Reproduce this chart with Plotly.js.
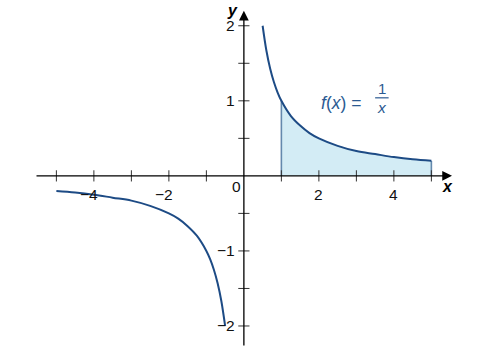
<!DOCTYPE html>
<html>
<head>
<meta charset="utf-8">
<script src="https://cdn.plot.ly/plotly-3.0.1.min.js"></script>
<style>html,body{margin:0;padding:0;background:#fff;}#chart{width:487px;height:351px;}</style>
</head>
<body>
<div id="chart"></div>
<script>
// Values
var leftX  = [-5, -4.5, -4, -3.5, -3, -2.5, -2, -1.75, -1.5, -1.25, -1, -0.9, -0.8, -0.7, -0.6, -0.5];
var leftY  = [-0.2, -0.22, -0.25, -0.29, -0.33, -0.4, -0.5, -0.57, -0.67, -0.8, -1, -1.11, -1.25, -1.43, -1.67, -2];
var rightX = [0.5, 0.6, 0.7, 0.8, 0.9, 1, 1.25, 1.5, 1.75, 2, 2.5, 3, 3.5, 4, 4.5, 5];
var rightY = [2, 1.67, 1.43, 1.25, 1.11, 1, 0.8, 0.67, 0.57, 0.5, 0.4, 0.33, 0.29, 0.25, 0.22, 0.2];
var areaFrom = 1, areaTo = 5;
var xTickVals = [-5, -4, -3, -2, -1, 1, 2, 3, 4, 5];
var yTickVals = [-2, -1.5, -1, -0.5, 0.5, 1, 1.5, 2];
var xLabelVals = [-4, -2, 2, 4];
var xLabelText = ['\u22124', '\u22122', '2', '4'];
var yLabelVals = [-2, -1, 1, 2];
var yLabelText = ['\u22122', '\u22121', '1', '2'];

var curveColor = '#1d4b85';
var fillX = [], fillY = [];
for (var i = 0; i < rightX.length; i++) {
  if (rightX[i] >= areaFrom && rightX[i] <= areaTo) { fillX.push(rightX[i]); fillY.push(rightY[i]); }
}
var yAtFrom = fillY[0], yAtTo = fillY[fillY.length - 1];

var traces = [
  {x: fillX, y: fillY, type: 'scatter', mode: 'lines', line: {width: 0, shape: 'spline'},
   fill: 'tozeroy', fillcolor: '#d3ecf5', hoverinfo: 'skip'},
  {x: [areaFrom, areaFrom, null, areaTo, areaTo], y: [0, yAtFrom, null, 0, yAtTo], type: 'scatter', mode: 'lines',
   line: {color: '#6489ad', width: 1.6}, hoverinfo: 'skip'},
  {x: xTickVals, y: xTickVals.map(function(){return 0;}), type: 'scatter', mode: 'markers',
   marker: {symbol: 'line-ns', size: 8, line: {color: '#333', width: 1}}, hoverinfo: 'skip'},
  {x: yTickVals.map(function(){return 0;}), y: yTickVals, type: 'scatter', mode: 'markers',
   marker: {symbol: 'line-ew', size: 8, line: {color: '#333', width: 1}}, hoverinfo: 'skip'},
  {x: leftX, y: leftY, type: 'scatter', mode: 'lines', line: {color: curveColor, width: 2, shape: 'spline'}},
  {x: rightX, y: rightY, type: 'scatter', mode: 'lines', line: {color: curveColor, width: 2, shape: 'spline'}}
];

var font = 'Liberation Sans, Arial, sans-serif';
var ann = [];
// axes with arrows
ann.push({x: 5.55, y: 0, ax: -5.57, ay: 0, axref: 'x', ayref: 'y', xref: 'x', yref: 'y', text: '',
  showarrow: true, arrowhead: 2, arrowsize: 1.5, arrowwidth: 1.3, arrowcolor: '#000', standoff: 0});
ann.push({x: 0, y: 2.2, ax: 0, ay: -2.28, axref: 'x', ayref: 'y', xref: 'x', yref: 'y', text: '',
  showarrow: true, arrowhead: 2, arrowsize: 1.5, arrowwidth: 1.3, arrowcolor: '#000', standoff: 0});
xLabelVals.forEach(function(v, i){
  ann.push({x: v, y: 0, xref: 'x', yref: 'y', text: xLabelText[i], showarrow: false,
    xanchor: 'center', yanchor: 'middle', xshift: v < 0 ? -5 : 0, yshift: -19,
    font: {family: font, size: 15.5, color: '#111'}});
});
yLabelVals.forEach(function(v, i){
  ann.push({x: 0, y: v, xref: 'x', yref: 'y', text: yLabelText[i], showarrow: false,
    xanchor: 'right', yanchor: 'middle', xshift: -7, yshift: 0,
    font: {family: font, size: 15.5, color: '#111'}});
});
ann.push({x: 0, y: 0, xref: 'x', yref: 'y', text: '0', showarrow: false, xanchor: 'center', yanchor: 'middle',
  xshift: -7, yshift: -11, font: {family: font, size: 15.5, color: '#111'}});
ann.push({x: 5.43, y: -0.147, xref: 'x', yref: 'y', text: '<b><i>x</i></b>', showarrow: false,
  xanchor: 'center', yanchor: 'middle', font: {family: font, size: 16, color: '#000'}});
ann.push({x: -0.31, y: 2.2, xref: 'x', yref: 'y', text: '<b><i>y</i></b>', showarrow: false,
  xanchor: 'center', yanchor: 'middle', font: {family: font, size: 16, color: '#000'}});
// function label
var labColor = '#2b5a92';
ann.push({x: 3.30, y: 0.973, xref: 'x', yref: 'y', text: '<i>f</i>(<i>x</i>) = ', showarrow: false,
  xanchor: 'right', yanchor: 'middle', font: {family: font, size: 17.5, color: labColor}});
ann.push({x: 3.68, y: 1.167, xref: 'x', yref: 'y', text: '1', showarrow: false,
  xanchor: 'center', yanchor: 'middle', font: {family: font, size: 15, color: labColor}});
ann.push({x: 3.67, y: 0.905, xref: 'x', yref: 'y', text: '<i>x</i>', showarrow: false,
  xanchor: 'center', yanchor: 'middle', font: {family: font, size: 15.5, color: labColor}});

var layout = {
  width: 487, height: 351,
  margin: {l: 35, r: 35, t: 10, b: 4, pad: 0},
  paper_bgcolor: '#fff', plot_bgcolor: '#fff',
  showlegend: false,
  xaxis: {range: [-5.57, 5.55], showgrid: false, zeroline: false, showticklabels: false, ticks: '', showline: false, fixedrange: true},
  yaxis: {range: [-2.28, 2.21], showgrid: false, zeroline: false, showticklabels: false, ticks: '', showline: false, fixedrange: true},
  annotations: ann,
  shapes: [{type: 'line', xref: 'x', yref: 'y', x0: 3.50, x1: 3.86, y0: 1.04, y1: 1.04, line: {color: labColor, width: 1.2}}]
};
Plotly.newPlot('chart', traces, layout, {displayModeBar: false, staticPlot: true});
</script>
</body>
</html>
